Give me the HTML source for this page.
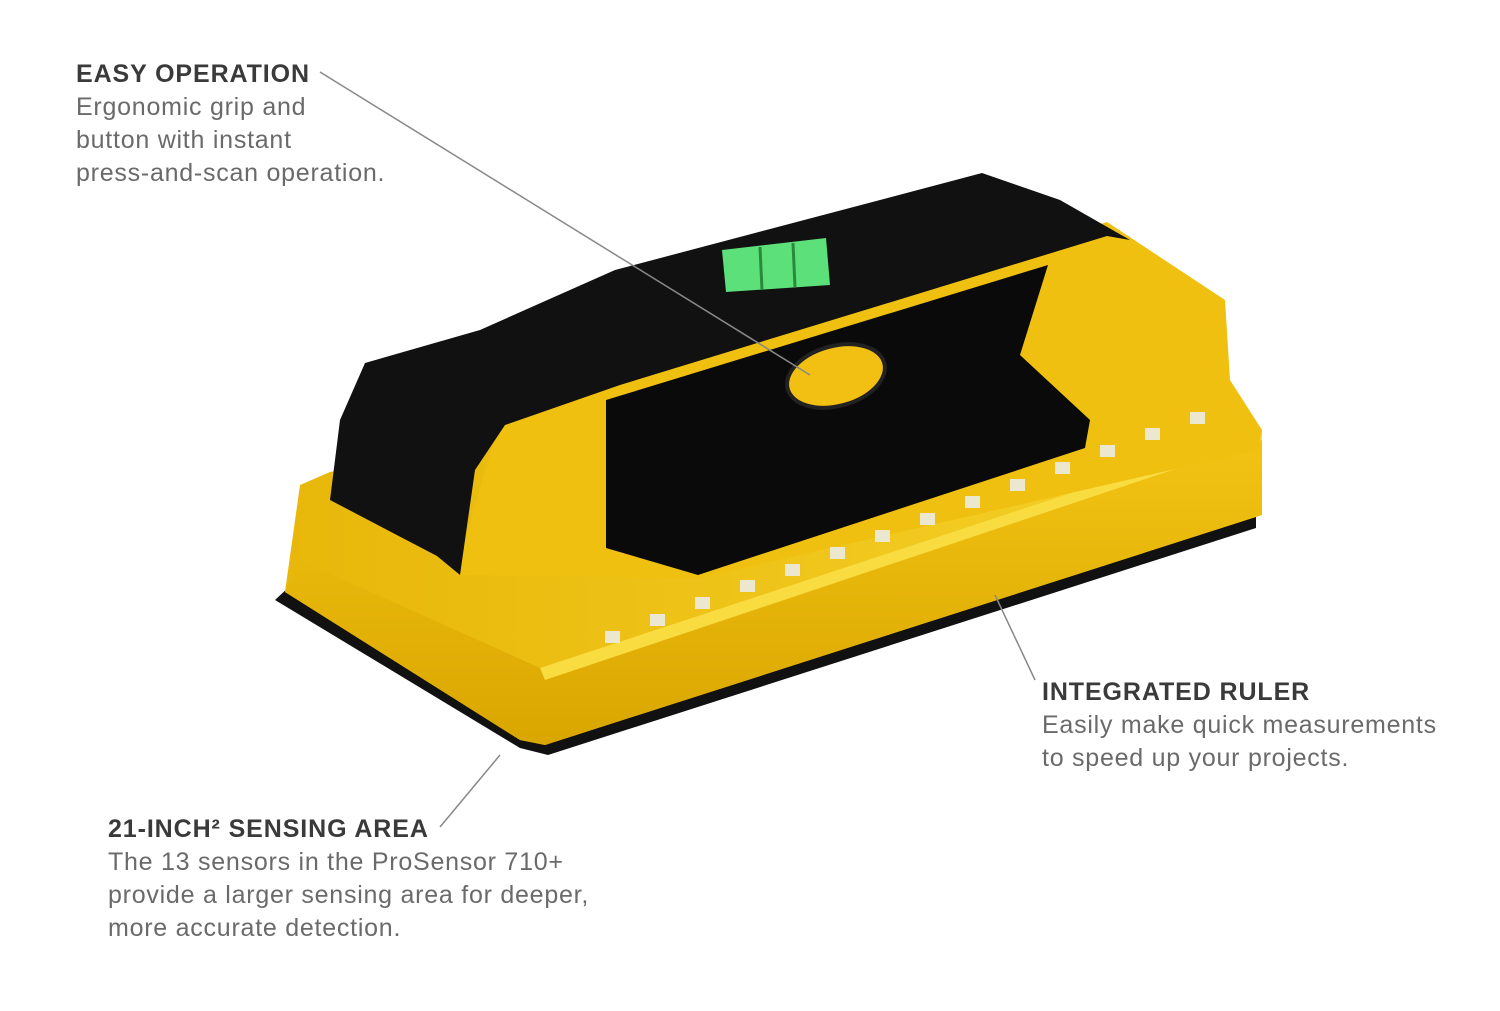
<!DOCTYPE html>
<html><head><meta charset="utf-8"><style>
html,body{margin:0;padding:0;background:#fff;}
body{width:1500px;height:1011px;position:relative;overflow:hidden;font-family:"Liberation Sans",sans-serif;}
.t{position:absolute;font-size:25px;line-height:33px;color:#6a6a6a;letter-spacing:0.75px;}
.t b{color:#3a3a3a;font-weight:bold;letter-spacing:0.9px;}
svg{position:absolute;left:0;top:0;}
</style></head><body>
<svg width="1500" height="1011" viewBox="0 0 1500 1011">
<defs>
<linearGradient id="front" x1="0" y1="0" x2="0" y2="1"><stop offset="0" stop-color="#f3c414"/><stop offset="1" stop-color="#d9a600"/></linearGradient>
<linearGradient id="top" x1="0" y1="0" x2="1" y2="0"><stop offset="0" stop-color="#e8b70a"/><stop offset="1" stop-color="#f6d22a"/></linearGradient>
</defs>
<polygon points="275,600 520,748 548,755 1256,528 1256,510 545,740 290,586" fill="#111"/>
<polygon points="285,592 300,485 330,472 1000,330 1215,380 1235,400 1262,430 1262,515 545,745 520,740" fill="url(#top)"/>
<polygon points="540,668 1262,430 1262,515 545,745 520,740 285,592 300,560" fill="url(#front)"/>
<polygon points="540,668 1262,430 1262,440 545,680" fill="#f8dc40"/>
<polygon points="455,575 500,420 1107,222 1225,300 1230,380 1262,430 1258,450 700,578" fill="#f0c010"/>
<polygon points="330,500 340,420 365,363 480,330 615,270 982,173 1060,200 1130,240 1107,236 620,385 505,425 475,470 460,575 437,556" fill="#111"/>
<polygon points="606,400 1048,265 1020,355 1090,420 1085,448 698,575 606,548" fill="#0a0a0a"/>
<polygon points="722,250 826,238 830,285 726,292" fill="#5be07a"/>
<line x1="760" y1="247" x2="762" y2="290" stroke="#2a8a3a" stroke-width="3"/>
<line x1="793" y1="243" x2="795" y2="287" stroke="#2a8a3a" stroke-width="3"/>
<ellipse cx="836" cy="376" rx="50" ry="30" transform="rotate(-15 836 376)" fill="#f2c012" stroke="#222" stroke-width="4"/>
<g fill="#ece8d0">
<rect x="605" y="631" width="15" height="12"/><rect x="650" y="614" width="15" height="12"/><rect x="695" y="597" width="15" height="12"/><rect x="740" y="580" width="15" height="12"/><rect x="785" y="564" width="15" height="12"/><rect x="830" y="547" width="15" height="12"/><rect x="875" y="530" width="15" height="12"/><rect x="920" y="513" width="15" height="12"/><rect x="965" y="496" width="15" height="12"/><rect x="1010" y="479" width="15" height="12"/><rect x="1055" y="462" width="15" height="12"/><rect x="1100" y="445" width="15" height="12"/><rect x="1145" y="428" width="15" height="12"/><rect x="1190" y="412" width="15" height="12"/>
</g>
<g stroke="#888" stroke-width="1.5">
<line x1="320" y1="72" x2="810" y2="375"/>
<line x1="995" y1="595" x2="1035" y2="680"/>
<line x1="440" y1="827" x2="500" y2="755"/>
</g>
</svg>
<div class="t" style="left:76px;top:58px;"><b>EASY OPERATION</b><br>Ergonomic grip and<br>button with instant<br>press-and-scan operation.</div>
<div class="t" style="left:1042px;top:676px;"><b>INTEGRATED RULER</b><br>Easily make quick measurements<br>to speed up your projects.</div>
<div class="t" style="left:108px;top:813px;"><b>21-INCH² SENSING AREA</b><br>The 13 sensors in the ProSensor 710+<br>provide a larger sensing area for deeper,<br>more accurate detection.</div>
</body></html>
